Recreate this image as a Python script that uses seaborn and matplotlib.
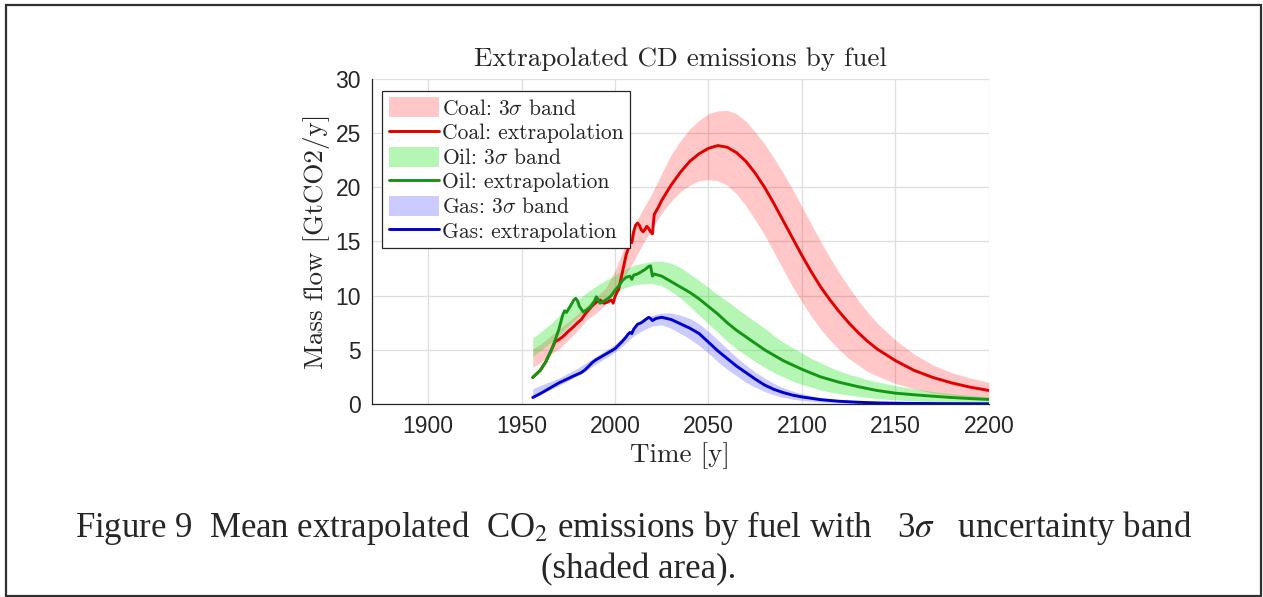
import numpy as np
import pandas as pd
import matplotlib
matplotlib.use("Agg")
import matplotlib.pyplot as plt
import seaborn as sns
from matplotlib.patches import Patch, Rectangle
from matplotlib.lines import Line2D

# ---------------- data ----------------
coal_years = [1956, 1960, 1963, 1966, 1968, 1970, 1972, 1975, 1977, 1980, 1982, 1984, 1986, 1988,
              1990, 1992, 1994, 1996, 1998, 1999, 2000, 2001, 2002, 2003, 2004, 2005, 2006, 2007,
              2008, 2009, 2010, 2011, 2012, 2013, 2014, 2015, 2016, 2017, 2018, 2019, 2020,
              2021, 2023, 2025, 2030, 2035, 2040, 2045, 2050, 2055, 2060, 2065, 2070, 2075, 2080,
              2085, 2090, 2095, 2100, 2105, 2110, 2115, 2120, 2125, 2130, 2135, 2140, 2150, 2160,
              2170, 2180, 2190, 2200]
coal_mean = [2.45, 3.1, 3.9, 5.0, 5.75, 5.95, 6.2, 6.7, 7.0, 7.5, 7.8, 8.3, 8.7, 9.1,
             9.4, 9.6, 9.3, 9.4, 9.6, 9.3, 9.9, 10.3, 10.6, 11.4, 12.2, 13.0, 13.8, 14.3,
             15.0, 14.9, 15.9, 16.5, 16.7, 16.5, 16.1, 15.9, 16.1, 16.4, 16.2, 15.9, 15.7,
             17.5, 18.1, 18.8, 20.2, 21.4, 22.4, 23.1, 23.6, 23.85, 23.7, 23.2, 22.4, 21.3, 20.0,
             18.5, 16.9, 15.3, 13.7, 12.2, 10.8, 9.6, 8.5, 7.5, 6.6, 5.8, 5.1, 4.0, 3.1,
             2.45, 1.95, 1.55, 1.25]

oil_years = [1956, 1960, 1963, 1966, 1968, 1970, 1972, 1973, 1974, 1976, 1978, 1979, 1980, 1981,
             1983, 1985, 1987, 1989, 1990, 1991, 1992, 1994, 1996, 1998, 2000, 2002, 2004, 2006,
             2008, 2009, 2010, 2012, 2014, 2016, 2018, 2019, 2020, 2021, 2025, 2030, 2035, 2040,
             2045, 2050, 2055, 2060, 2065, 2070, 2075, 2080, 2085, 2090, 2095, 2100, 2110, 2120,
             2130, 2140, 2150, 2160, 2170, 2180, 2190, 2200]
oil_mean = [2.45, 3.1, 3.9, 5.0, 5.9, 6.9, 8.2, 8.6, 8.45, 9.0, 9.6, 9.75, 9.5, 9.0,
            8.5, 8.7, 9.0, 9.5, 9.9, 9.6, 9.3, 9.5, 9.7, 10.0, 10.5, 10.9, 11.4, 11.7,
            11.8, 11.5, 11.9, 12.0, 12.2, 12.4, 12.7, 12.75, 11.8, 12.0, 11.8, 11.3, 10.8, 10.3,
            9.7, 9.0, 8.3, 7.5, 6.8, 6.2, 5.6, 5.0, 4.5, 4.0, 3.6, 3.2, 2.5, 2.0,
            1.6, 1.25, 1.0, 0.85, 0.72, 0.6, 0.5, 0.42]

gas_years = [1956, 1960, 1965, 1970, 1975, 1978, 1980, 1982, 1984, 1986, 1988, 1990, 1992, 1994,
             1996, 1998, 2000, 2002, 2004, 2006, 2007, 2008, 2009, 2010, 2012, 2014, 2016, 2018,
             2019, 2020, 2022, 2025, 2030, 2035, 2040, 2045, 2050, 2055, 2060, 2065, 2070, 2075,
             2080, 2085, 2090, 2095, 2100, 2110, 2120, 2130, 2140, 2150, 2160, 2180, 2200]
gas_mean = [0.6, 0.95, 1.45, 1.95, 2.35, 2.6, 2.75, 2.9, 3.15, 3.5, 3.85, 4.1, 4.3, 4.5,
            4.7, 4.9, 5.1, 5.45, 5.8, 6.2, 6.45, 6.6, 6.5, 6.9, 7.35, 7.5, 7.75, 8.0,
            7.9, 7.7, 7.9, 8.0, 7.8, 7.4, 7.0, 6.5, 5.7, 4.9, 4.2, 3.5, 2.9, 2.3,
            1.75, 1.35, 1.05, 0.82, 0.65, 0.4, 0.25, 0.16, 0.1, 0.07, 0.05, 0.03, 0.02]

band_years = [1956, 1960, 1965, 1970, 1975, 1980, 1985, 1990, 1995, 2000, 2005, 2010, 2015, 2020,
              2025, 2030, 2035, 2040, 2045, 2050, 2055, 2060, 2065, 2070, 2075, 2080, 2085, 2090,
              2095, 2100, 2105, 2110, 2115, 2120, 2125, 2130, 2135, 2140, 2150, 2160, 2170, 2180,
              2190, 2200]
coal_low = [3.4, 3.8, 4.5, 5.1, 5.9, 6.8, 7.8, 8.4, 9.2, 10.2, 11.7, 13.2, 14.8, 16.3,
            17.6, 18.7, 19.6, 20.2, 20.6, 20.7, 20.6, 20.2, 19.4, 18.3, 17.0, 15.6, 14.0, 12.4,
            10.8, 9.4, 8.1, 6.9, 5.9, 5.0, 4.2, 3.6, 3.0, 2.6, 1.9, 1.4, 1.0, 0.8,
            0.6, 0.5]
coal_high = [5.1, 5.5, 6.2, 6.9, 7.6, 8.3, 9.1, 9.9, 10.7, 12.3, 14.5, 16.4, 18.0, 19.5,
             21.3, 23.0, 24.3, 25.4, 26.2, 26.8, 27.05, 27.1, 26.8, 26.1, 25.1, 24.0, 22.7, 21.3,
             19.8, 18.2, 16.6, 15.0, 13.5, 12.1, 10.8, 9.6, 8.5, 7.5, 5.9, 4.6, 3.6, 2.9,
             2.4, 2.0]
oil_low = [4.4, 4.9, 5.6, 6.4, 7.2, 8.0, 8.7, 9.3, 9.8, 10.3, 10.7, 11.0, 11.1, 11.1,
           10.9, 10.4, 9.8, 9.0, 8.2, 7.4, 6.6, 5.8, 5.1, 4.5, 3.9, 3.4, 2.9, 2.5,
           2.1, 1.8, 1.55, 1.3, 1.1, 0.95, 0.82, 0.7, 0.6, 0.5, 0.38, 0.28, 0.2, 0.15,
           0.12, 0.1]
oil_high = [6.1, 6.6, 7.3, 8.1, 8.9, 9.6, 10.3, 10.9, 11.4, 11.9, 12.4, 12.8, 13.0, 13.15,
            13.2, 13.0, 12.6, 12.0, 11.4, 10.75, 10.1, 9.5, 8.85, 8.2, 7.6, 7.0, 6.3, 5.7,
            5.2, 4.7, 4.2, 3.8, 3.4, 3.05, 2.75, 2.5, 2.25, 2.05, 1.7, 1.4, 1.15, 0.95,
            0.8, 0.65]
gas_low = [0.5, 0.9, 1.3, 1.7, 2.15, 2.6, 3.15, 3.7, 4.25, 4.8, 5.5, 6.3, 6.8, 7.2,
           7.3, 7.0, 6.5, 6.0, 5.4, 4.7, 3.9, 3.2, 2.6, 2.0, 1.55, 1.15, 0.85, 0.6,
           0.45, 0.33, 0.25, 0.18, 0.13, 0.1, 0.08, 0.06, 0.04, 0.03, 0.02, 0.01, 0.0, 0.0,
           0.0, 0.0]
gas_high = [1.4, 1.7, 2.05, 2.4, 2.85, 3.3, 3.85, 4.4, 4.95, 5.5, 6.3, 7.1, 7.7, 8.2,
            8.4, 8.4, 8.2, 7.9, 7.4, 6.7, 5.9, 5.1, 4.3, 3.6, 2.95, 2.4, 1.9, 1.5,
            1.2, 0.95, 0.75, 0.6, 0.48, 0.38, 0.3, 0.24, 0.19, 0.15, 0.1, 0.06, 0.04, 0.03,
            0.025, 0.02]

legend_labels = [r"Coal: 3$\sigma$ band", "Coal: extrapolation",
                 r"Oil: 3$\sigma$ band", "Oil: extrapolation",
                 r"Gas: 3$\sigma$ band", "Gas: extrapolation"]
x_ticks = [1900, 1950, 2000, 2050, 2100, 2150, 2200]
y_ticks = [0, 5, 10, 15, 20, 25, 30]

# ---------------- styling ----------------
sns.set_theme(style="white")
plt.rcParams["font.family"] = ["Liberation Sans", "DejaVu Sans"]
plt.rcParams["mathtext.fontset"] = "cm"
plt.rcParams["axes.formatter.use_mathtext"] = True

line_colors = {"Coal": "#e00000", "Oil": "#149614", "Gas": "#0000cc"}
band_colors = {"Coal": (1.0, 0.0, 0.0, 0.22), "Oil": (0.1, 0.9, 0.1, 0.32), "Gas": (0.2, 0.2, 1.0, 0.25)}
serif = "cmr10"

fig = plt.figure(figsize=(12.63, 5.97), dpi=100)
ax = fig.add_axes([0.2945, 0.3233, 0.4885, 0.5444])

frames = {
    "Coal": (pd.DataFrame({"year": coal_years, "value": coal_mean}), coal_low, coal_high),
    "Oil": (pd.DataFrame({"year": oil_years, "value": oil_mean}), oil_low, oil_high),
    "Gas": (pd.DataFrame({"year": gas_years, "value": gas_mean}), gas_low, gas_high),
}

handles = []
for fuel, (df, lo, hi) in frames.items():
    ax.fill_between(band_years, lo, hi, color=band_colors[fuel], linewidth=0)
    sns.lineplot(data=df, x="year", y="value", ax=ax, color=line_colors[fuel], linewidth=2.1,
                 legend=False)
    handles.append(Patch(facecolor=band_colors[fuel], edgecolor="none"))
    handles.append(Line2D([0], [0], color=line_colors[fuel], linewidth=2.1))

ax.set_xlim(1870, 2200)
ax.set_ylim(0, 30)
ax.set_xticks(x_ticks)
ax.set_yticks(y_ticks)
ax.set_xticklabels([str(v) for v in x_ticks])
ax.set_yticklabels([str(v) for v in y_ticks])
ax.grid(True, color="#dedede", linewidth=0.9)
ax.set_axisbelow(True)
for s in ["top", "right"]:
    ax.spines[s].set_visible(False)
for s in ["left", "bottom"]:
    ax.spines[s].set_color("#262626")
    ax.spines[s].set_linewidth(0.9)
ax.tick_params(axis="both", direction="in", length=5, width=0.9, color="#262626",
               labelsize=16.5, labelcolor="#262626", pad=8)

ax.set_title("Extrapolated CD emissions by fuel", fontsize=19.5, color="#262626", pad=9, family=serif)
ax.set_xlabel("Time [y]", fontsize=19.5, color="#262626", labelpad=3, family=serif)
ax.set_ylabel("Mass flow [GtCO2/y]", fontsize=19.5, color="#262626", labelpad=4, family=serif)

leg = ax.legend(handles, legend_labels, loc="upper left", bbox_to_anchor=(0.017, 0.963),
                prop={"family": serif, "size": 15.5}, frameon=True, fancybox=False, framealpha=1,
                edgecolor="#262626", handlelength=2.35, handleheight=1.05, handletextpad=0.12,
                labelspacing=0.15, borderpad=0.3, borderaxespad=0.0)
leg.get_frame().set_linewidth(0.9)
for t in leg.get_texts():
    t.set_color("#262626")

# caption and outer frame
fig.text(0.5015, 1 - 528 / 597,
         r"Figure 9  Mean extrapolated  CO$_2$ emissions by fuel with   3$\sigma$   uncertainty band",
         ha="center", va="center", fontsize=25, family="Liberation Serif", math_fontfamily="stix")
fig.text(0.506, 1 - 570 / 597, "(shaded area).", ha="center", va="center", fontsize=25,
         family="Liberation Serif")
fig.patches.append(Rectangle((6 / 1263, 1 / 597), 1255 / 1263, 591 / 597, transform=fig.transFigure,
                             fill=False, edgecolor="#303030", linewidth=1.6))

fig.savefig("out.png", dpi=100)
